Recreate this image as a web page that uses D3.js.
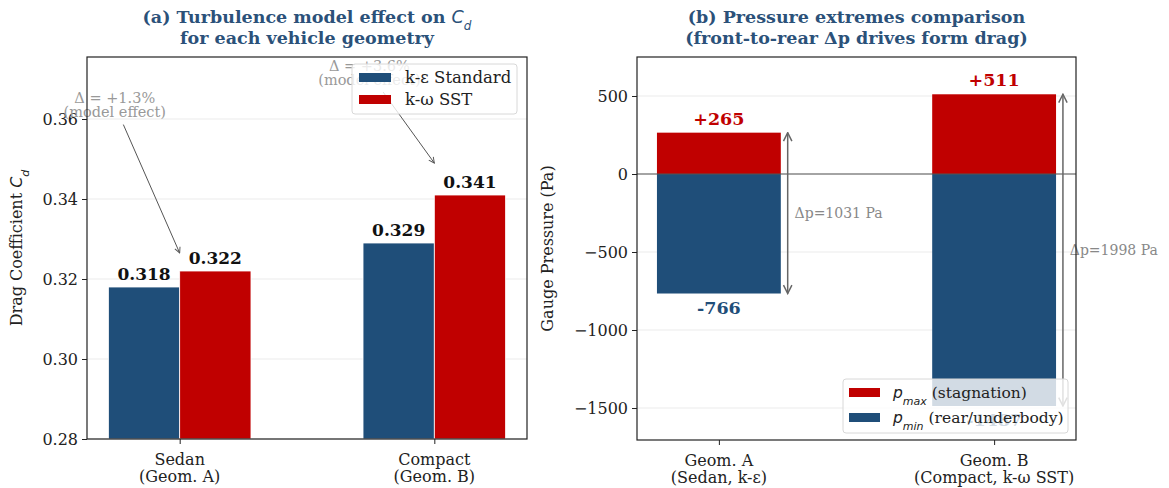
<!DOCTYPE html>
<html>
<head>
<meta charset="utf-8">
<script src="https://cdn.jsdelivr.net/npm/d3@7"></script>
<style>
  body { margin: 0; background: #fff; }
  svg text { font-family: "DejaVu Serif", serif; }
</style>
</head>
<body>
<svg id="chart" width="1169" height="488"></svg>
<script>
// ---- data ----
const geometries = ['Sedan', 'Compact'];
const geometrySub = ['(Geom. A)', '(Geom. B)'];
const cdKEps = [0.318, 0.329];
const cdKOmega = [0.322, 0.341];
const cdTicks = [0.28, 0.30, 0.32, 0.34, 0.36];
const deltaLabels = ['Δ = +1.3%', 'Δ = +3.6%'];
const deltaTextY = [0.364, 0.372];
const deltaTipY = [0.3265, 0.349];

const pressureCases = ['Geom. A', 'Geom. B'];
const pressureSub = ['(Sedan, k-ε)', '(Compact, k-ω SST)'];
const pMax = [265, 511];
const pMin = [-766, -1487];
const pTicks = [500, 0, -500, -1000, -1500];

const blue = '#1f4e79', red = '#c00000', titleColor = '#2b5179';

const svg = d3.select('#chart');
const defs = svg.append('defs');
function marker(id, color) {
  defs.append('marker').attr('id', id)
    .attr('viewBox', '0 0 10 10').attr('refX', 9).attr('refY', 5)
    .attr('markerWidth', 7).attr('markerHeight', 7)
    .attr('orient', 'auto-start-reverse')
    .append('path').attr('d', 'M1,1 L9,5 L1,9').attr('fill', 'none')
    .attr('stroke', color).attr('stroke-width', 1.4);
}
marker('arr', '#555');
marker('arr2', '#666');

// common helpers
function frame(g, x0, x1, y0, y1) {
  g.append('rect').attr('x', x0).attr('y', y0).attr('width', x1 - x0).attr('height', y1 - y0)
    .attr('fill', 'none').attr('stroke', '#222').attr('stroke-width', 1.2);
}
function title(g, cx, lines) {
  const t = g.append('text').attr('x', cx).attr('y', 23).attr('text-anchor', 'middle')
    .attr('fill', titleColor).style('font-weight', 'bold').style('font-size', '17.5px');
  lines.forEach((l, i) => {
    const ts = t.append('tspan').attr('x', cx).attr('dy', i ? 21 : 0);
    l.forEach(p => ts.append('tspan').text(p.t).style('font-style', p.it ? 'italic' : null)
      .style('font-weight', p.it ? 'normal' : null)
      .style('font-family', p.it ? '"DejaVu Sans", sans-serif' : null)
      .attr('baseline-shift', p.sub ? 'sub' : null).style('font-size', p.sub ? '12px' : null));
  });
}
function yAxis(g, y, x0, x1, ticks, fmt) {
  g.append('g').selectAll('line').data(ticks).join('line')
    .attr('x1', x0).attr('x2', x1).attr('y1', d => y(d)).attr('y2', d => y(d))
    .attr('stroke', '#ebebeb').attr('stroke-width', 1);
  const ax = g.append('g').attr('transform', `translate(${x0},0)`)
    .call(d3.axisLeft(y).tickValues(ticks).tickFormat(fmt).tickSize(5).tickPadding(4));
  ax.select('.domain').remove();
  ax.selectAll('line').attr('stroke', '#222');
  ax.selectAll('text').style('font-size', '16px').attr('fill', '#222')
    .style('font-family', '"DejaVu Serif", serif');
}
function xAxis(g, x, y0, names, subs) {
  const ax = g.append('g').attr('transform', `translate(0,${y0})`)
    .call(d3.axisBottom(x).tickValues(names.map((d, i) => i)).tickSize(5).tickFormat(''));
  ax.select('.domain').remove();
  ax.selectAll('line').attr('stroke', '#222');
  names.forEach((n, i) => {
    const t = g.append('text').attr('x', x(i)).attr('y', y0 + 26).attr('text-anchor', 'middle')
      .style('font-size', '16px').attr('fill', '#222');
    t.append('tspan').attr('x', x(i)).text(n);
    t.append('tspan').attr('x', x(i)).attr('dy', 17).text(subs[i]);
  });
}

// ---- panel (a) ----
const A = { l: 87, r: 527, t: 57, b: 439 };
const xa = d3.scaleLinear().domain([-0.364, 1.364]).range([A.l, A.r]);
const ya = d3.scaleLinear().domain([0.28, 0.3755]).range([A.b, A.t]);
const ga = svg.append('g');
yAxis(ga, ya, A.l, A.r, cdTicks, d3.format('.2f'));
const bw = 0.28;
const seriesA = [{ v: cdKEps, off: -bw / 2, c: blue }, { v: cdKOmega, off: bw / 2, c: red }];
seriesA.forEach(s => {
  ga.append('g').selectAll('rect').data(s.v).join('rect')
    .attr('x', (d, i) => xa(i + s.off - bw / 2)).attr('width', xa(bw) - xa(0))
    .attr('y', d => ya(d)).attr('height', d => ya(0.28) - ya(d))
    .attr('fill', s.c).attr('stroke', '#fff').attr('stroke-width', 0.8);
  ga.append('g').selectAll('text').data(s.v).join('text')
    .attr('x', (d, i) => xa(i + s.off)).attr('y', d => ya(d) - 7)
    .attr('text-anchor', 'middle').style('font-size', '17px').style('font-weight', 'bold')
    .attr('fill', '#111').text(d => d.toFixed(3));
});
// model-effect annotations
deltaLabels.forEach((lab, i) => {
  const tx = xa(i - 0.255), ty = ya(deltaTextY[i]);
  const t = ga.append('text').attr('x', tx).attr('y', ty).attr('text-anchor', 'middle')
    .style('font-size', '14.5px').attr('fill', '#999');
  t.append('tspan').attr('x', tx).text(lab);
  t.append('tspan').attr('x', tx).attr('dy', 14).text('(model effect)');
  // arrow starts where the line from the text centre leaves the text box
  const cx = tx, cy = ty + 2, hx = 54, hy = 15;
  const px = xa(i), py = ya(deltaTipY[i]);
  const dx = px - cx, dy = py - cy;
  const k = Math.min(hx / Math.abs(dx), hy / Math.abs(dy));
  const len = Math.hypot(dx, dy), sh = 5 / len;
  ga.append('line').attr('x1', cx + dx * (k + sh)).attr('y1', cy + dy * (k + sh))
    .attr('x2', px).attr('y2', py)
    .attr('stroke', '#555').attr('stroke-width', 1).attr('marker-end', 'url(#arr)');
});
frame(ga, A.l, A.r, A.t, A.b);
xAxis(ga, xa, A.b, geometries, geometrySub);
title(ga, (A.l + A.r) / 2, [[{ t: '(a) Turbulence model effect on ' }, { t: 'C', it: true }, { t: 'd', it: true, sub: true }],
  [{ t: 'for each vehicle geometry' }]]);
const yla = ga.append('text').attr('transform', `translate(22,${(A.t + A.b) / 2}) rotate(-90)`)
  .attr('text-anchor', 'middle').style('font-size', '16px').attr('fill', '#222');
yla.append('tspan').text('Drag Coefficient ');
yla.append('tspan').text('C').style('font-style', 'italic').style('font-family', '"DejaVu Sans", sans-serif');
yla.append('tspan').text('d').style('font-style', 'italic').style('font-size', '11px')
  .style('font-family', '"DejaVu Sans", sans-serif').attr('baseline-shift', 'sub');
// legend (a)
const la = ga.append('g').attr('transform', 'translate(352,64)');
la.append('rect').attr('width', 165).attr('height', 50).attr('rx', 3)
  .attr('fill', '#fff').attr('fill-opacity', 0.8).attr('stroke', '#d8d8d8');
[['k-ε Standard', blue], ['k-ω SST', red]].forEach((d, i) => {
  la.append('rect').attr('x', 7).attr('y', 9 + i * 22).attr('width', 32).attr('height', 9).attr('fill', d[1]);
  la.append('text').attr('x', 53).attr('y', 19 + i * 22).style('font-size', '16.5px').attr('fill', '#222').text(d[0]);
});

// ---- panel (b) ----
const B = { l: 637, r: 1076, t: 57, b: 440 };
const xb = d3.scaleLinear().domain([-0.2975, 1.2975]).range([B.l, B.r]);
const yb = d3.scaleLinear().domain([-1705, 750]).range([B.b, B.t]);
const gb = svg.append('g');
yAxis(gb, yb, B.l, B.r, pTicks, d => d3.format('d')(d).replace('-', '−'));
const pw = 0.45;
gb.append('g').selectAll('rect').data(pMax).join('rect')
  .attr('x', (d, i) => xb(i - pw / 2)).attr('width', xb(pw) - xb(0))
  .attr('y', d => yb(d)).attr('height', d => yb(0) - yb(d)).attr('fill', red);
gb.append('g').selectAll('rect').data(pMin).join('rect')
  .attr('x', (d, i) => xb(i - pw / 2)).attr('width', xb(pw) - xb(0))
  .attr('y', yb(0)).attr('height', d => yb(d) - yb(0)).attr('fill', blue);
gb.append('line').attr('x1', B.l).attr('x2', B.r).attr('y1', yb(0)).attr('y2', yb(0))
  .attr('stroke', '#555').attr('stroke-width', 1.2);
gb.append('g').selectAll('text').data(pMax).join('text')
  .attr('x', (d, i) => xb(i)).attr('y', d => yb(d) - 8).attr('text-anchor', 'middle')
  .style('font-size', '17.5px').style('font-weight', 'bold').attr('fill', red).text(d => '+' + d);
gb.append('g').selectAll('text').data(pMin).join('text')
  .attr('x', (d, i) => xb(i)).attr('y', d => yb(d) + 20).attr('text-anchor', 'middle')
  .style('font-size', '17.5px').style('font-weight', 'bold').attr('fill', blue).text(d => String(d));
pMax.forEach((d, i) => {
  gb.append('line').attr('x1', xb(i + 0.25)).attr('x2', xb(i + 0.25))
    .attr('y1', yb(d)).attr('y2', yb(pMin[i]))
    .attr('stroke', '#666').attr('stroke-width', 1.5)
    .attr('marker-start', 'url(#arr2)').attr('marker-end', 'url(#arr2)');
  gb.append('text').attr('x', xb(i + 0.275)).attr('y', yb((d + pMin[i]) / 2)).attr('dy', '0.35em')
    .style('font-size', '14px').attr('fill', '#888').text(`Δp=${d - pMin[i]} Pa`);
});
frame(gb, B.l, B.r, B.t, B.b);
xAxis(gb, xb, B.b, pressureCases, pressureSub);
title(gb, (B.l + B.r) / 2, [[{ t: '(b) Pressure extremes comparison' }], [{ t: '(front-to-rear Δp drives form drag)' }]]);
gb.append('text').attr('transform', `translate(553,${(B.t + B.b) / 2}) rotate(-90)`)
  .attr('text-anchor', 'middle').style('font-size', '16px').attr('fill', '#222').text('Gauge Pressure (Pa)');
// legend (b)
const lb = gb.append('g').attr('transform', 'translate(843,379)');
lb.append('rect').attr('width', 225).attr('height', 54).attr('rx', 3)
  .attr('fill', '#fff').attr('fill-opacity', 0.8).attr('stroke', '#d8d8d8');
[['max', ' (stagnation)', red], ['min', ' (rear/underbody)', blue]].forEach((d, i) => {
  lb.append('rect').attr('x', 6).attr('y', 9 + i * 25).attr('width', 31).attr('height', 9).attr('fill', d[2]);
  const t = lb.append('text').attr('x', 50).attr('y', 19 + i * 25).style('font-size', '15.5px').attr('fill', '#222');
  t.append('tspan').text('p').style('font-style', 'italic').style('font-family', '"DejaVu Sans", sans-serif');
  t.append('tspan').text(d[0]).style('font-style', 'italic').style('font-size', '11px')
    .style('font-family', '"DejaVu Sans", sans-serif').attr('baseline-shift', 'sub');
  t.append('tspan').text(d[1]);
});
</script>
</body>
</html>
